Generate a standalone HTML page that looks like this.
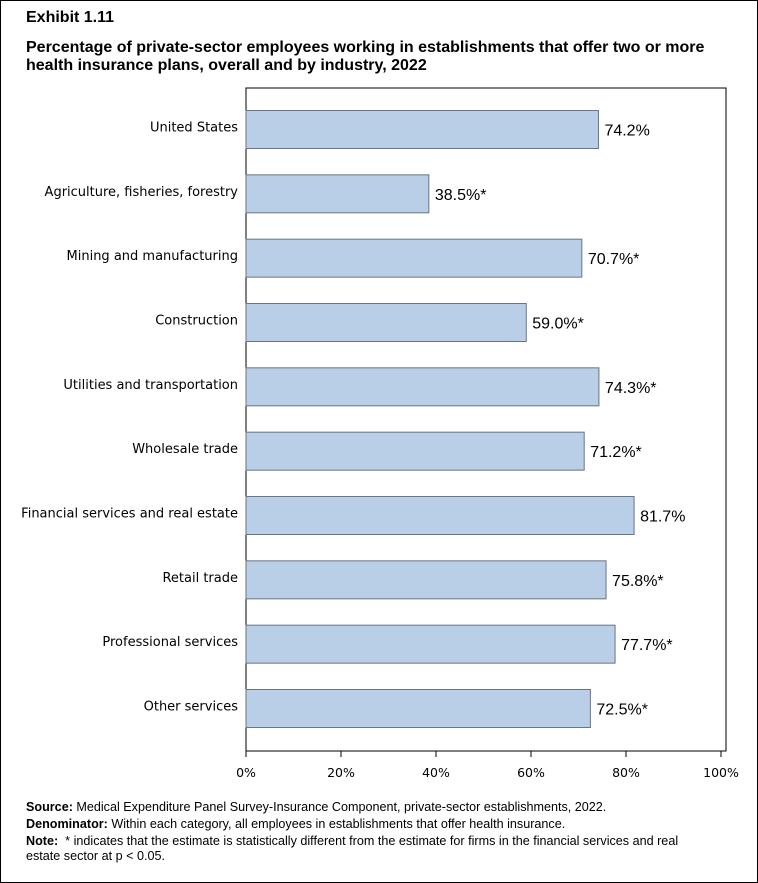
<!DOCTYPE html>
<html><head><meta charset="utf-8"><style>
body{margin:0;background:#fff;}
#wrap{position:relative;width:756px;height:881px;border:1px solid #000;background:#fff;overflow:hidden;font-family:"Liberation Sans",sans-serif;}
.t{position:absolute;left:25px;font-weight:bold;font-size:16px;color:#000;line-height:18px;}
.f{position:absolute;left:25px;font-size:12.6px;line-height:15px;color:#000;width:700px;}
</style></head><body>
<div id="wrap">
<div class="t" style="top:8px">Exhibit 1.11</div>
<div class="t" style="top:38px;width:720px">Percentage of private-sector employees working in establishments that offer two or more health insurance plans, overall and by industry, 2022</div>
<svg id="chart" width="758" height="883" style="position:absolute;left:-1px;top:-1px"></svg>
<div class="f" style="top:799px"><b>Source:</b> Medical Expenditure Panel Survey-Insurance Component, private-sector establishments, 2022.</div>
<div class="f" style="top:816px"><b>Denominator:</b> Within each category, all employees in establishments that offer health insurance.</div>
<div class="f" style="top:833px;width:684px"><b>Note:</b>&nbsp; * indicates that the estimate is statistically different from the estimate for firms in the financial services and real estate sector at p &lt; 0.05.</div>
</div>
<script>
const categories=["United States","Agriculture, fisheries, forestry","Mining and manufacturing","Construction","Utilities and transportation","Wholesale trade","Financial services and real estate","Retail trade","Professional services","Other services"];
const values=[74.2,38.5,70.7,59.0,74.3,71.2,81.7,75.8,77.7,72.5];
const valueLabels=["74.2%","38.5%*","70.7%*","59.0%*","74.3%*","71.2%*","81.7%","75.8%*","77.7%*","72.5%*"];
const ticks=[0,20,40,60,80,100];
const tickLabels=["0%","20%","40%","60%","80%","100%"];
const NS="http://www.w3.org/2000/svg";
const svg=document.getElementById('chart');
const x0=246,x1=721,plotTop=88,plotBottom=751,plotRight=726;
const xs=v=>x0+(v/100)*(x1-x0);
const firstC=129.5,lastC=708.5;
const ys=i=>firstC+(lastC-firstC)*i/(categories.length-1);
function mk(t,a){const e=document.createElementNS(NS,t);for(const k in a)e.setAttribute(k,a[k]);svg.appendChild(e);return e;}
const frame=mk('rect',{x:x0,y:plotTop,width:plotRight-x0,height:plotBottom-plotTop,fill:'none',stroke:'#000','stroke-width':1});


categories.forEach((c,i)=>{
  const cy=ys(i);
  const b=mk('rect',{x:x0,y:cy-19,width:xs(values[i])-x0,height:38,fill:'#b9cfe7',stroke:'#6b7480','stroke-width':1});
  
  
  const l=mk('text',{x:238,y:cy+2,'text-anchor':'end','font-family':'DejaVu Sans, sans-serif','font-size':'13px',fill:'#000'});
  l.textContent=c;
  
  
  const v=mk('text',{x:xs(values[i])+6,y:cy+6,'font-family':'Liberation Sans, sans-serif','font-size':'16px',fill:'#000'});
  v.textContent=valueLabels[i];
  
  
});
ticks.forEach((t,i)=>{
  const tk=mk('line',{x1:xs(t),x2:xs(t),y1:plotBottom,y2:plotBottom+6,stroke:'#000'});
  
  
  const tl=mk('text',{x:xs(t),y:777,'text-anchor':'middle','font-family':'DejaVu Sans, sans-serif','font-size':'12.5px',fill:'#000'});
  tl.textContent=tickLabels[i];
  
  
});
</script>
</body></html>
